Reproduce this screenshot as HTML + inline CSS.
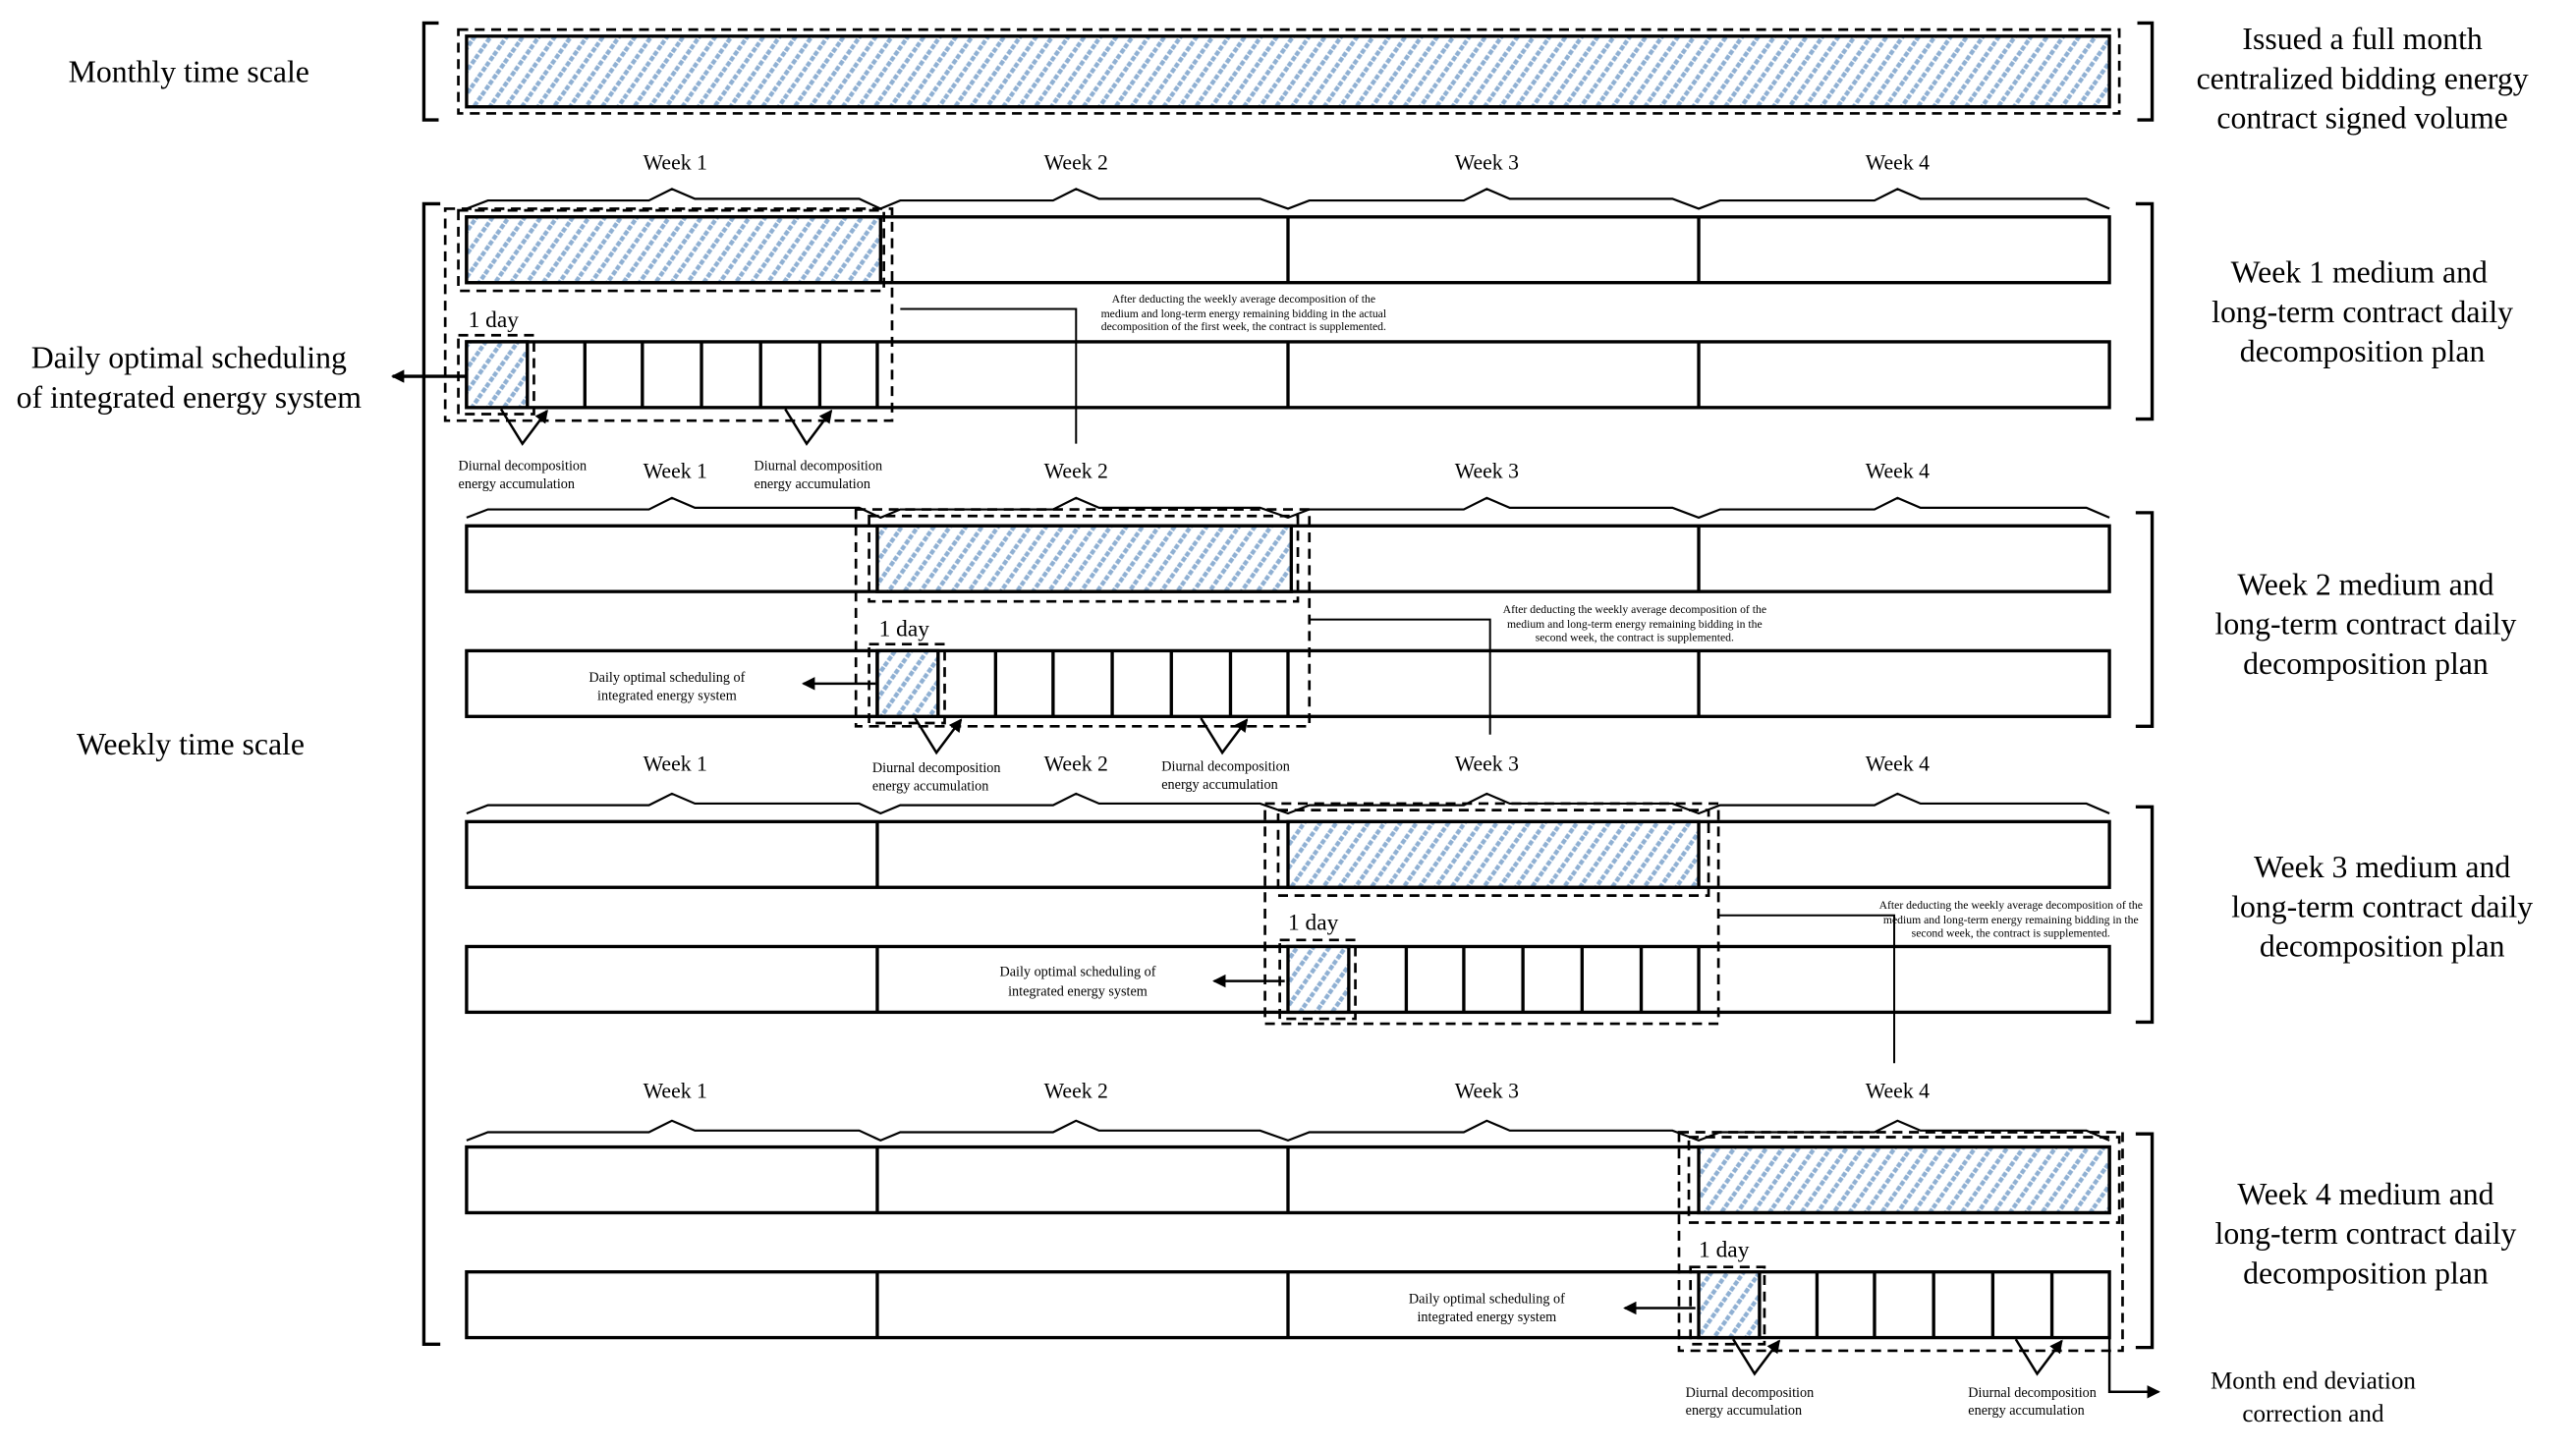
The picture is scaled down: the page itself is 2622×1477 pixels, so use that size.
<!DOCTYPE html>
<html><head><meta charset="utf-8"><style>
html,body{margin:0;padding:0;background:#fff;}
svg{display:block;}
text{font-family:"Liberation Serif",serif;fill:#000;}
</style></head><body>
<svg width="2622" height="1477" viewBox="0 0 1568 883" preserveAspectRatio="none" xmlns="http://www.w3.org/2000/svg">
<defs>
<pattern id="h" patternUnits="userSpaceOnUse" width="8" height="8" patternTransform="rotate(35)">
<rect width="8" height="8" fill="#fff"/>
<line x1="1.5" y1="0" x2="1.5" y2="8" stroke="#8fb0d3" stroke-width="2.6" stroke-dasharray="3 1.2"/>
</pattern>
<marker id="a" markerWidth="8" markerHeight="8" refX="7" refY="4" orient="auto" markerUnits="userSpaceOnUse"><path d="M0,0 L8,4 L0,8 z" fill="#000"/></marker>
</defs>
<g fill="none" stroke="#000" stroke-width="2">
<path d="M267,14 H258 V73 H267"/>
<path d="M1301,14 H1310 V73 H1301"/>
<rect x="279" y="18" width="1011" height="51" stroke-dasharray="6 4" stroke-width="1.6"/>
<rect x="284" y="22" width="1000" height="43" fill="url(#h)"/>
<path d="M268,124 H258 V818 H268"/>
<path d="M1300,124 H1310 V255 H1300"/>
<path d="M1300,312 H1310 V442 H1300"/>
<path d="M1300,491 H1310 V622 H1300"/>
<path d="M1300,690 H1310 V820 H1300"/>
</g>
<g fill="none" stroke="#000" stroke-width="1.3">
<path d="M284,127 L297,122 L395,122 L409,115 L423,121 L523,121 L536,127 L548,122 L641,122 L655,115 L669,121 L767,121 L784,127 L797,122 L891,122 L905,115 L919,121 L1018,121 L1034,127 L1047,122 L1141,122 L1155,115 L1169,121 L1270,121 L1284,127"/>
<path d="M284,315 L297,310 L395,310 L409,303 L423,309 L523,309 L536,315 L548,310 L641,310 L655,303 L669,309 L767,309 L784,315 L797,310 L891,310 L905,303 L919,309 L1018,309 L1034,315 L1047,310 L1141,310 L1155,303 L1169,309 L1270,309 L1284,315"/>
<path d="M284,495 L297,490 L395,490 L409,483 L423,489 L523,489 L536,495 L548,490 L641,490 L655,483 L669,489 L767,489 L784,495 L797,490 L891,490 L905,483 L919,489 L1018,489 L1034,495 L1047,490 L1141,490 L1155,483 L1169,489 L1270,489 L1284,495"/>
<path d="M284,694 L297,689 L395,689 L409,682 L423,688 L523,688 L536,694 L548,689 L641,689 L655,682 L669,688 L767,688 L784,694 L797,689 L891,689 L905,682 L919,688 L1018,688 L1034,694 L1047,689 L1141,689 L1155,682 L1169,688 L1270,688 L1284,694"/>
</g>
<g fill="none" stroke="#000" stroke-width="2">
<rect x="284" y="132" width="1000" height="40"/>
<rect x="284" y="132" width="252" height="40" fill="url(#h)"/>
<path d="M784,132 V172 M1034,132 V172"/>
<rect x="284" y="208" width="1000" height="40"/>
<rect x="284" y="208" width="37" height="40" fill="url(#h)"/>
<path d="M356,208V248 M391,208V248 M427,208V248 M463,208V248 M499,208V248 M534,208V248 M784,208V248 M1034,208V248"/>
<rect x="284" y="320" width="1000" height="40"/>
<rect x="534" y="320" width="252" height="40" fill="url(#h)"/>
<path d="M1034,320 V360"/>
<rect x="284" y="396" width="1000" height="40"/>
<rect x="534" y="396" width="37" height="40" fill="url(#h)"/>
<path d="M534,396V436 M606,396V436 M641,396V436 M677,396V436 M713,396V436 M749,396V436 M784,396V436 M1034,396V436"/>
<rect x="284" y="500" width="1000" height="40"/>
<path d="M534,500 V540"/>
<rect x="784" y="500" width="250" height="40" fill="url(#h)"/>
<rect x="284" y="576" width="1000" height="40"/>
<rect x="784" y="576" width="37" height="40" fill="url(#h)"/>
<path d="M534,576V616 M856,576V616 M891,576V616 M927,576V616 M963,576V616 M999,576V616 M1034,576V616"/>
<rect x="284" y="698" width="1000" height="40"/>
<path d="M534,698V738 M784,698V738"/>
<rect x="1034" y="698" width="250" height="40" fill="url(#h)"/>
<rect x="284" y="774" width="1000" height="40"/>
<rect x="1034" y="774" width="37" height="40" fill="url(#h)"/>
<path d="M534,774V814 M784,774V814 M1106,774V814 M1141,774V814 M1177,774V814 M1213,774V814 M1249,774V814"/>
</g>
<g fill="none" stroke="#000" stroke-width="1.6" stroke-dasharray="6 4">
<rect x="271" y="127" width="272" height="129"/>
<rect x="279" y="128" width="259" height="49"/>
<rect x="279" y="204" width="46" height="48"/>
<rect x="521" y="310" width="276" height="132"/>
<rect x="529" y="314" width="261" height="52"/>
<rect x="529" y="392" width="46" height="48"/>
<rect x="770" y="489" width="276" height="134"/>
<rect x="778" y="493" width="262" height="52"/>
<rect x="779" y="572" width="46" height="48"/>
<rect x="1022" y="689" width="270" height="133"/>
<rect x="1028" y="692" width="262" height="52"/>
<rect x="1029" y="771" width="45" height="47"/>
</g>
<g fill="none" stroke="#000" stroke-width="1.2">
<path d="M548,188 H655 V270"/>
<path d="M797,377 H907 V447"/>
<path d="M1046,557 H1153 V647"/>
</g>
<g fill="none" stroke="#000" stroke-width="1.5">
<path d="M284,229 H239" marker-end="url(#a)" stroke-width="2"/>
<path d="M533,416 H489" marker-end="url(#a)"/>
<path d="M782,597 H739" marker-end="url(#a)"/>
<path d="M1032,796 H989" marker-end="url(#a)"/>
<path d="M1284,814 V847 H1314" marker-end="url(#a)"/>
<path d="M305,249 L318,270 L333,250" marker-end="url(#a)"/>
<path d="M478,249 L491,270 L506,250" marker-end="url(#a)"/>
<path d="M557,437 L570,458 L585,438" marker-end="url(#a)"/>
<path d="M731,437 L744,458 L759,438" marker-end="url(#a)"/>
<path d="M1055,815 L1068,836 L1083,816" marker-end="url(#a)"/>
<path d="M1227,815 L1240,836 L1255,816" marker-end="url(#a)"/>
</g>
<g font-size="13" text-anchor="middle">
<text x="411" y="103">Week 1</text><text x="655" y="103">Week 2</text><text x="905" y="103">Week 3</text><text x="1155" y="103">Week 4</text>
<text x="411" y="291">Week 1</text><text x="655" y="291">Week 2</text><text x="905" y="291">Week 3</text><text x="1155" y="291">Week 4</text>
<text x="411" y="469">Week 1</text><text x="655" y="469">Week 2</text><text x="905" y="469">Week 3</text><text x="1155" y="469">Week 4</text>
<text x="411" y="668">Week 1</text><text x="655" y="668">Week 2</text><text x="905" y="668">Week 3</text><text x="1155" y="668">Week 4</text>
</g>
<g font-size="14">
<text x="285" y="199">1 day</text><text x="535" y="387">1 day</text><text x="784" y="566">1 day</text><text x="1034" y="765">1 day</text>
</g>
<g font-size="7" text-anchor="middle">
<text x="757" y="184">After deducting the weekly average decomposition of the</text>
<text x="757" y="193">medium and long-term energy remaining bidding in the actual</text>
<text x="757" y="201">decomposition of the first week, the contract is supplemented.</text>
<text x="995" y="373">After deducting the weekly average decomposition of the</text>
<text x="995" y="382">medium and long-term energy remaining bidding in the</text>
<text x="995" y="390">second week, the contract is supplemented.</text>
<text x="1224" y="553">After deducting the weekly average decomposition of the</text>
<text x="1224" y="562">medium and long-term energy remaining bidding in the</text>
<text x="1224" y="570">second week, the contract is supplemented.</text>
</g>
<g font-size="8.5">
<text x="279" y="286">Diurnal decomposition</text><text x="279" y="297">energy accumulation</text>
<text x="459" y="286">Diurnal decomposition</text><text x="459" y="297">energy accumulation</text>
<text x="531" y="470">Diurnal decomposition</text><text x="531" y="481">energy accumulation</text>
<text x="707" y="469">Diurnal decomposition</text><text x="707" y="480">energy accumulation</text>
<text x="1026" y="850">Diurnal decomposition</text><text x="1026" y="861">energy accumulation</text>
<text x="1198" y="850">Diurnal decomposition</text><text x="1198" y="861">energy accumulation</text>
</g>
<g font-size="8.5" text-anchor="middle">
<text x="406" y="415">Daily optimal scheduling of</text><text x="406" y="426">integrated energy system</text>
<text x="656" y="594">Daily optimal scheduling of</text><text x="656" y="606">integrated energy system</text>
<text x="905" y="793">Daily optimal scheduling of</text><text x="905" y="804">integrated energy system</text>
</g>
<g font-size="19" text-anchor="middle">
<text x="115" y="50">Monthly time scale</text>
<text x="115" y="224">Daily optimal scheduling</text>
<text x="115" y="248">of integrated energy system</text>
<text x="116" y="459">Weekly time scale</text>
<text x="1438" y="30">Issued a full month</text>
<text x="1438" y="54">centralized bidding energy</text>
<text x="1438" y="78">contract signed volume</text>
<text x="1436" y="172">Week 1 medium and</text>
<text x="1438" y="196">long-term contract daily</text>
<text x="1438" y="220">decomposition plan</text>
<text x="1440" y="362">Week 2 medium and</text>
<text x="1440" y="386">long-term contract daily</text>
<text x="1440" y="410">decomposition plan</text>
<text x="1450" y="534">Week 3 medium and</text>
<text x="1450" y="558">long-term contract daily</text>
<text x="1450" y="582">decomposition plan</text>
<text x="1440" y="733">Week 4 medium and</text>
<text x="1440" y="757">long-term contract daily</text>
<text x="1440" y="781">decomposition plan</text>
</g>
<g font-size="15" text-anchor="middle">
<text x="1408" y="845">Month end deviation</text>
<text x="1408" y="865">correction and</text>
</g>
</svg>
</body></html>
